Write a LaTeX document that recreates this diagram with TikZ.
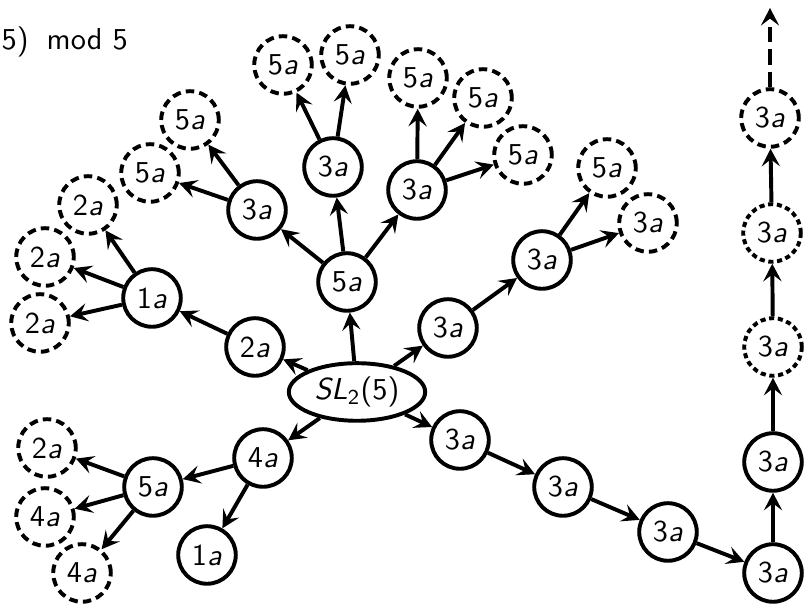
\documentclass[tikz,border=0pt]{standalone}
\usetikzlibrary{shapes.geometric,arrows.meta}
\newcommand{\irr}[1]{#1\textit{a}}
\tikzset{
  cls/.style={circle,draw,line width=1.3pt,minimum size=19pt,inner sep=0pt,font=\sffamily},
  ghost/.style={cls,dash pattern=on 2.8pt off 1.7pt},
  dghost/.style={cls,dash pattern=on 1.7pt off 1.2pt},
  edge/.style={-{Stealth[length=5.8pt,width=6pt,inset=2.3pt]},line width=1.3pt}
}
\begin{document}
\begin{tikzpicture}[x=0.33pt,y=-0.33pt]
  \useasboundingbox (0,0) rectangle (807,606);
  \node[font=\sffamily,anchor=base west,inner sep=0pt] (title) at (1,50) {5)\hspace{6pt}mod 5};
  % root
  \node[ellipse,draw,line width=1.3pt,minimum width=45pt,minimum height=19pt,inner sep=0pt,font=\sffamily]
    (root) at (357,392) {\textit{SL}\textsubscript{2}(5)};
  % upper left branch
  \node[cls] (b2a) at (255,347) {\irr{2}};
  \node[cls] (b1a) at (152,298) {\irr{1}};
  \node[ghost] (g2a1) at (88,205) {\irr{2}};
  \node[ghost] (g2a2) at (45,257) {\irr{2}};
  \node[ghost] (g2a3) at (40,323) {\irr{2}};
  % upper branch
  \node[cls] (c5a) at (347,282) {\irr{5}};
  \node[cls] (c3l) at (257,210) {\irr{3}};
  \node[ghost] (h5a1) at (190,120) {\irr{5}};
  \node[ghost] (h5a2) at (150,173) {\irr{5}};
  \node[cls] (c3m) at (333,167) {\irr{3}};
  \node[ghost] (h5a3) at (283,65) {\irr{5}};
  \node[ghost] (h5a4) at (350,55) {\irr{5}};
  \node[cls] (c3r) at (417,190) {\irr{3}};
  \node[ghost] (h5a5) at (418,78) {\irr{5}};
  \node[ghost] (h5a6) at (483,98) {\irr{5}};
  \node[ghost] (h5a7) at (523,155) {\irr{5}};
  % upper right branch
  \node[cls] (d3a1) at (448,328) {\irr{3}};
  \node[cls] (d3a2) at (542,260) {\irr{3}};
  \node[ghost] (k5a) at (607,168) {\irr{5}};
  \node[ghost] (k3a) at (648,223) {\irr{3}};
  % lower right chain
  \node[cls] (e1) at (460,440) {\irr{3}};
  \node[cls] (e2) at (563,487) {\irr{3}};
  \node[cls] (e3) at (668,532) {\irr{3}};
  \node[cls] (e4) at (773,573) {\irr{3}};
  \node[cls] (e5) at (773,462) {\irr{3}};
  \node[dghost] (e6) at (773,347) {\irr{3}};
  \node[dghost] (e7) at (772,233) {\irr{3}};
  \node[ghost] (e8) at (770,118) {\irr{3}};
  \coordinate (etop) at (770,8);
  % lower left branch
  \node[cls] (f4a) at (263,458) {\irr{4}};
  \node[cls] (f1a) at (207,555) {\irr{1}};
  \node[cls] (f5a) at (153,487) {\irr{5}};
  \node[ghost] (m2a) at (47,448) {\irr{2}};
  \node[ghost] (m4a1) at (45,517) {\irr{4}};
  \node[ghost] (m4a2) at (82,573) {\irr{4}};

  \path[edge] (root) edge (b2a) edge (c5a) edge (d3a1) edge (e1) edge (f4a);
  \path[edge] (b2a) edge (b1a);
  \path[edge] (b1a) edge (g2a1) edge (g2a2) edge (g2a3);
  \path[edge] (c5a) edge (c3l) edge (c3m) edge (c3r);
  \path[edge] (c3l) edge (h5a1) edge (h5a2);
  \path[edge] (c3m) edge (h5a3) edge (h5a4);
  \path[edge] (c3r) edge (h5a5) edge (h5a6) edge (h5a7);
  \path[edge] (d3a1) edge (d3a2);
  \path[edge] (d3a2) edge (k5a) edge (k3a);
  \path[edge] (e1) edge (e2) (e2) edge (e3) (e3) edge (e4) (e4) edge (e5)
    (e5) edge (e6) (e6) edge (e7) (e7) edge (e8);
  \draw[edge,dash pattern=on 5pt off 2.5pt] (e8) -- (etop);
  \path[edge] (f4a) edge (f5a) edge (f1a);
  \path[edge] (f5a) edge (m2a) edge (m4a1) edge (m4a2);
\end{tikzpicture}
\end{document}
